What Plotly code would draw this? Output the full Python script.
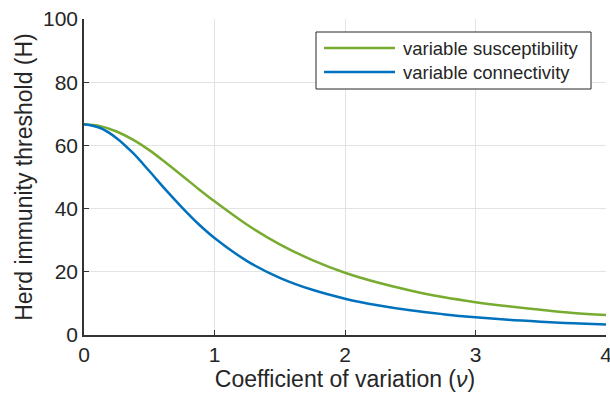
import plotly.graph_objects as go

cv = [0, 0.125, 0.25, 0.375, 0.5, 0.625, 0.75, 0.875, 1.0, 1.25, 1.5, 1.75, 2.0,
      2.25, 2.5, 2.75, 3.0, 3.25, 3.5, 3.75, 4.0]
h_susceptibility = [66.7, 66.1, 64.4, 61.8, 58.5, 54.6, 50.5, 46.3, 42.3, 34.9, 28.7,
                    23.7, 19.7, 16.6, 14.1, 12.0, 10.4, 9.1, 8.0, 7.0, 6.3]
h_connectivity = [66.7, 65.5, 62.3, 57.6, 51.9, 46.0, 40.4, 35.2, 30.7, 23.4, 18.1,
                  14.3, 11.5, 9.4, 7.8, 6.6, 5.6, 4.8, 4.2, 3.7, 3.3]
series_names = ["variable susceptibility", "variable connectivity"]
series_colors = ["#77AC30", "#0072BD"]
x_ticks = [0, 1, 2, 3, 4]
y_ticks = [0, 20, 40, 60, 80, 100]

font = "Liberation Sans, Arial, sans-serif"
W, H = 610, 394
L, R, T, B = 84, 4, 19, 59
PW, PH = W - L - R, H - T - B


def px_x(p):
    return (p - L) / PW


def px_y(p):
    return (H - B - p) / PH


fig = go.Figure()
for vals, name, col in zip([h_susceptibility, h_connectivity], series_names, series_colors):
    fig.add_trace(go.Scatter(x=cv, y=vals, mode="lines", name=name, showlegend=False,
                             line=dict(color=col, width=2.5, shape="spline")))

# legend drawn as a boxed key (MATLAB style, long line samples)
shapes = [dict(type="rect", xref="paper", yref="paper",
               x0=px_x(316), x1=px_x(591), y0=px_y(89), y1=px_y(32),
               line=dict(color="#262626", width=1), fillcolor="white", layer="above")]
annotations = []
for i, (name, col) in enumerate(zip(series_names, series_colors)):
    yy = px_y(48 + 24 * i)
    shapes.append(dict(type="line", xref="paper", yref="paper",
                       x0=px_x(324), x1=px_x(395), y0=yy, y1=yy,
                       line=dict(color=col, width=2.5), layer="above"))
    annotations.append(dict(xref="paper", yref="paper", x=px_x(401), y=yy,
                            xanchor="left", yanchor="middle", showarrow=False,
                            text=name, font=dict(size=18.5, color="#262626")))

fig.update_layout(
    width=W, height=H,
    margin=dict(l=L, r=R, t=T, b=B, autoexpand=False),
    paper_bgcolor="white", plot_bgcolor="white",
    font=dict(family=font, color="#262626"),
    showlegend=False,
    shapes=shapes, annotations=annotations,
)
fig.update_xaxes(range=[0, 4], tickvals=x_ticks, ticktext=[str(t) for t in x_ticks],
                 showgrid=True, gridcolor="#E3E3E3", gridwidth=1,
                 showline=True, linecolor="#333333", linewidth=1.5,
                 ticks="inside", ticklen=5, tickcolor="#333333", automargin=False,
                 ticklabeloverflow="allow",
                 tickfont=dict(size=21, color="#262626"), zeroline=False,
                 title=dict(text="Coefficient of variation (<i>ν</i>)", font=dict(size=23), standoff=3))
fig.update_yaxes(range=[0, 100], tickvals=y_ticks, ticktext=[str(t) for t in y_ticks],
                 showgrid=True, gridcolor="#E3E3E3", gridwidth=1,
                 showline=True, linecolor="#333333", linewidth=1.5,
                 ticks="inside", ticklen=5, tickcolor="#333333", automargin=False,
                 ticklabeloverflow="allow",
                 tickfont=dict(size=21, color="#262626"), zeroline=False,
                 title=dict(text="Herd immunity threshold (H)", font=dict(size=23), standoff=4))

fig.write_html("out.html", config={"displayModeBar": False},
               post_script="document.body.style.margin='0';")
